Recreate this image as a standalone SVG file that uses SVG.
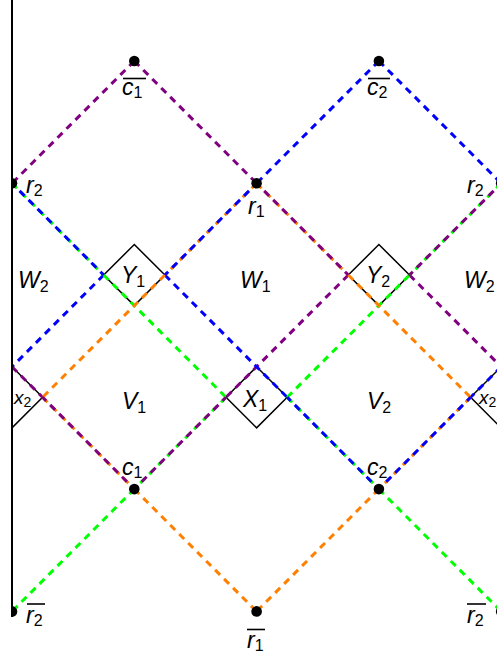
<svg xmlns="http://www.w3.org/2000/svg" width="497" height="656" viewBox="0 0 497 656">
<style>
.d{fill:none;stroke-width:3;stroke-dasharray:7 5.7}
.p{stroke:#800080}.b{stroke:#0000ff}.g{stroke:#00ff00}.o{stroke:#ff8000}
.t{stroke-dashoffset:2}
.dia{fill:none;stroke:#000;stroke-width:1.5}
.lbl{font-family:"Liberation Sans",Arial,sans-serif;font-size:23px;fill:#000}
.it{font-style:italic}
.sub{font-size:16px;font-style:normal}
.ov{stroke:#000;stroke-width:1.6}
</style>
<defs>
<clipPath id="clip"><rect x="12" y="0" width="485" height="656"/></clipPath>
</defs>
<rect width="497" height="656" fill="#fff"/>
<g clip-path="url(#clip)">
<g id="Y1"><polygon class="dia" points="134.3,244.5 164.9,275 134.3,305.6 103.7,275"/><text class="lbl" x="121" y="283"><tspan class="it">Y</tspan><tspan class="sub" dy="4">1</tspan></text></g>
<g id="Y2"><polygon class="dia" points="378.9,244.5 409.5,275 378.9,305.6 348.3,275"/><text class="lbl" x="366" y="283"><tspan class="it">Y</tspan><tspan class="sub" dy="4">2</tspan></text></g>
<g id="X1"><polygon class="dia" points="256.6,366.8 287.2,397.3 256.6,427.9 226,397.3"/><text class="lbl" x="243" y="407"><tspan class="it">X</tspan><tspan class="sub" dy="4">1</tspan></text></g>
<g id="x2L"><polygon class="dia" points="12,366.8 42.6,397.3 12,427.9 -18.6,397.3"/><text class="lbl" x="14" y="404" style="font-size:19px"><tspan class="it">x</tspan><tspan class="sub" dy="3" style="font-size:14px">2</tspan></text></g>
<g id="x2R"><polygon class="dia" points="501.2,366.8 531.8,397.3 501.2,427.9 470.6,397.3"/><text class="lbl" x="479" y="404" style="font-size:19px"><tspan class="it">x</tspan><tspan class="sub" dy="3" style="font-size:14px">2</tspan></text></g>

<g id="connectors">
<path class="d p" d="M134.3,61L12,183.3M134.3,61L256.6,183.3M348.3,275L256.6,366.8L226,397.3M409.5,275L501.2,366.8M12,366.8L42.6,397.3"/>
<path class="d b" d="M378.9,61L256.6,183.3M378.9,61L501.2,183.3M103.7,275L12,366.8M164.9,275L256.6,366.8L287.2,397.3M501.2,366.8L470.6,397.3"/>
<path class="d g" d="M103.7,275L134.3,305.6L226,397.3M287.2,397.3L378.9,305.6L409.5,275M134.3,489.1L12,611.4M378.9,489.1L501.2,611.4"/>
<path class="d o" d="M164.9,275L134.3,305.6L42.6,397.3M348.3,275L378.9,305.6L470.6,397.3M134.3,489.1L256.6,611.4M378.9,489.1L256.6,611.4"/>
<path class="d g" d="M12,183.3L103.7,275M501.2,183.3L409.5,275M226,397.3L134.3,489.1M287.2,397.3L378.9,489.1"/>
<path class="d o" d="M256.6,183.3L164.9,275M256.6,183.3L348.3,275M42.6,397.3L134.3,489.1M470.6,397.3L378.9,489.1"/>
<path class="d b t" d="M12,183.3L103.7,275M256.6,183.3L164.9,275M287.2,397.3L378.9,489.1M470.6,397.3L378.9,489.1"/>
<path class="d p t" d="M256.6,183.3L348.3,275M501.2,183.3L409.5,275M226,397.3L134.3,489.1M42.6,397.3L134.3,489.1"/>
</g>

<g id="cbar1"><circle cx="134.3" cy="61" r="5.3"/><text class="lbl" x="122" y="95"><tspan class="it">c</tspan><tspan class="sub" dy="3">1</tspan></text><line class="ov" x1="123" y1="78.5" x2="146" y2="78.5"/></g>
<g id="cbar2"><circle cx="378.9" cy="61" r="5.3"/><text class="lbl" x="367" y="95"><tspan class="it">c</tspan><tspan class="sub" dy="3">2</tspan></text><line class="ov" x1="368" y1="78.5" x2="390" y2="78.5"/></g>
<g id="r2L"><circle cx="12" cy="183.3" r="5.3"/><text class="lbl" x="26" y="193"><tspan class="it">r</tspan><tspan class="sub" dy="3">2</tspan></text></g>
<g id="r1"><circle cx="256.6" cy="183.3" r="5.3"/><text class="lbl" x="248" y="214"><tspan class="it">r</tspan><tspan class="sub" dy="3">1</tspan></text></g>
<g id="r2R"><circle cx="501.2" cy="183.3" r="5.3"/><text class="lbl" x="467" y="193"><tspan class="it">r</tspan><tspan class="sub" dy="3">2</tspan></text></g>
<g id="c1"><circle cx="134.3" cy="489.1" r="5.3"/><text class="lbl" x="122" y="475"><tspan class="it">c</tspan><tspan class="sub" dy="3">1</tspan></text></g>
<g id="c2"><circle cx="378.9" cy="489.1" r="5.3"/><text class="lbl" x="367" y="475"><tspan class="it">c</tspan><tspan class="sub" dy="3">2</tspan></text></g>
<g id="rbar2L"><circle cx="12" cy="611.4" r="5.3"/><text class="lbl" x="26" y="623"><tspan class="it">r</tspan><tspan class="sub" dy="3">2</tspan></text><line class="ov" x1="27" y1="604" x2="45" y2="604"/></g>
<g id="rbar1"><circle cx="256.6" cy="611.4" r="5.3"/><text class="lbl" x="247" y="648"><tspan class="it">r</tspan><tspan class="sub" dy="3">1</tspan></text><line class="ov" x1="247" y1="629.5" x2="265" y2="629.5"/></g>
<g id="rbar2R"><circle cx="501.2" cy="611.4" r="5.3"/><text class="lbl" x="467" y="623"><tspan class="it">r</tspan><tspan class="sub" dy="3">2</tspan></text><line class="ov" x1="467" y1="604" x2="486" y2="604"/></g>

<g id="W2L"><text class="lbl" x="18" y="288"><tspan class="it">W</tspan><tspan class="sub" dy="4">2</tspan></text></g>
<g id="W1"><text class="lbl" x="240" y="288"><tspan class="it">W</tspan><tspan class="sub" dy="4">1</tspan></text></g>
<g id="W2R"><text class="lbl" x="464" y="288"><tspan class="it">W</tspan><tspan class="sub" dy="4">2</tspan></text></g>
<g id="V1"><text class="lbl" x="122" y="409"><tspan class="it">V</tspan><tspan class="sub" dy="4">1</tspan></text></g>
<g id="V2"><text class="lbl" x="367" y="409"><tspan class="it">V</tspan><tspan class="sub" dy="4">2</tspan></text></g>
</g>
<line x1="12" y1="0" x2="12" y2="617" stroke="#000" stroke-width="2"/>
</svg>
